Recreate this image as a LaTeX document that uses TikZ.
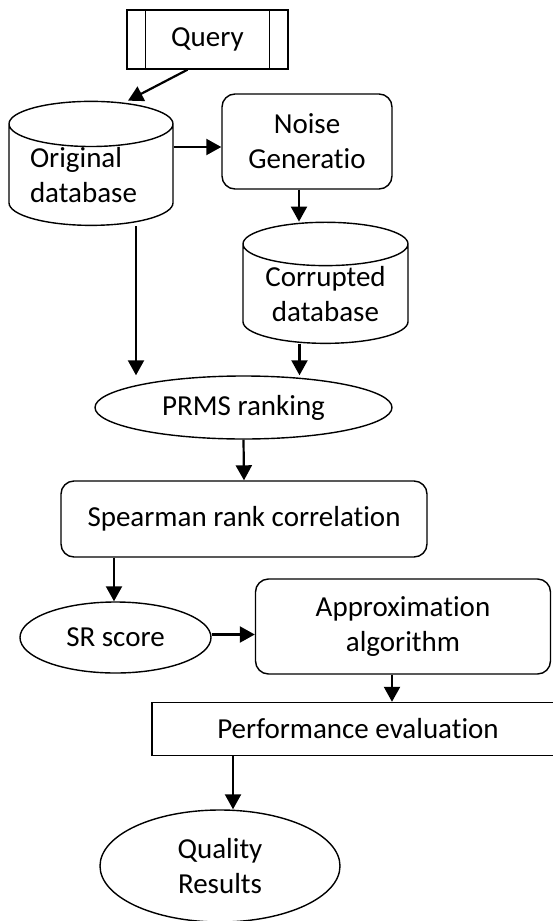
\documentclass[tikz,border=0pt]{standalone}
\usepackage{fontspec}
\setmainfont{Carlito}[Ligatures=NoCommon]
\usetikzlibrary{arrows.meta,shapes.geometric}
\tikzstyle{box}=[
        draw,
        rectangle,
        rounded corners=13pt,
        line width=1.4pt,
        inner sep=0pt,
        align=center
    ]
\tikzstyle{plain box}=[draw, rectangle, line width=1.4pt, inner sep=0pt, align=center]
\tikzstyle{db}=[draw, cylinder, shape border rotate=90, line width=1.4pt, inner sep=0pt]
\tikzstyle{oval}=[draw, ellipse, line width=1.4pt, inner sep=0pt, align=center]

\begin{document}
\begin{tikzpicture}[x=1pt, y=-1pt, font=\fontsize{29}{35}\selectfont,
        arr/.style = {-{Triangle[length=15pt,width=16pt]}, line width=2.2pt}]
        \useasboundingbox (0,0) rectangle (552,921);

        \node[plain box, minimum width=161pt, minimum height=59pt] (query) at (207.5,39.5) {Query};
        \draw[line width=1.4pt] ([xshift=19pt]query.north west) -- ([xshift=19pt]query.south west);
        \draw[line width=1.4pt] ([xshift=-19pt]query.north east) -- ([xshift=-19pt]query.south east);

        \node[db, aspect=0.37, minimum width=164pt, minimum height=124pt, text width=122pt, align=left] (orig) at (91,175) {Original\\database};
        \node[box, minimum width=170pt, minimum height=95pt] (noise) at (307,141.5) {Noise\\Generatio};
        \node[db, aspect=0.36, minimum width=165pt, minimum height=116pt, align=center] (corr) at (325.5,294) {Corrupted\\database};
        \node[oval, minimum width=297pt, minimum height=63pt] (prms) at (243.5,407.5) {PRMS ranking};
        \node[box, minimum width=366pt, minimum height=76pt] (spear) at (244,519) {Spearman rank correlation};
        \node[oval, minimum width=191pt, minimum height=71pt] (sr) at (115.5,637.5) {SR score};
        \node[box, minimum width=295pt, minimum height=95pt] (approx) at (403,626.5) {Approximation\\algorithm};
        \node[plain box, minimum width=412pt, minimum height=53pt] (perf) at (358,729) {Performance evaluation};
        \node[oval, minimum width=240pt, minimum height=112pt] (qual) at (220,866) {Quality\\Results};

        \draw[arr] ([xshift=-20pt]query.south) -- ([xshift=37pt]orig.north);
        \draw[arr] ([yshift=28pt]orig.east) -- ([yshift=28pt]orig.east -| noise.west);
        \draw[arr] ([xshift=-8pt]noise.south) -- ([xshift=-8pt]noise.south |- corr.north);
        \draw[arr] ([xshift=45pt]orig.south) -- ([xshift=45pt]orig.south |- prms.north);
        \draw[arr] ([xshift=-26pt]corr.south) -- ([xshift=-26pt]corr.south |- prms.north);
        \draw[arr] (prms.south) -- (spear.north);
        \draw[arr] ([xshift=-130pt]spear.south) -- ([xshift=-130pt]spear.south |- sr.north);
        \draw[arr] ([yshift=3pt]sr.east) -- ([yshift=3pt]sr.east -| approx.west);
        \draw[arr] ([xshift=-11pt]approx.south) -- ([xshift=-11pt]approx.south |- perf.north);
        \draw[arr] ([xshift=13pt]qual.north |- perf.south) -- ([xshift=13pt]qual.north);
    \end{tikzpicture}
\end{document}
